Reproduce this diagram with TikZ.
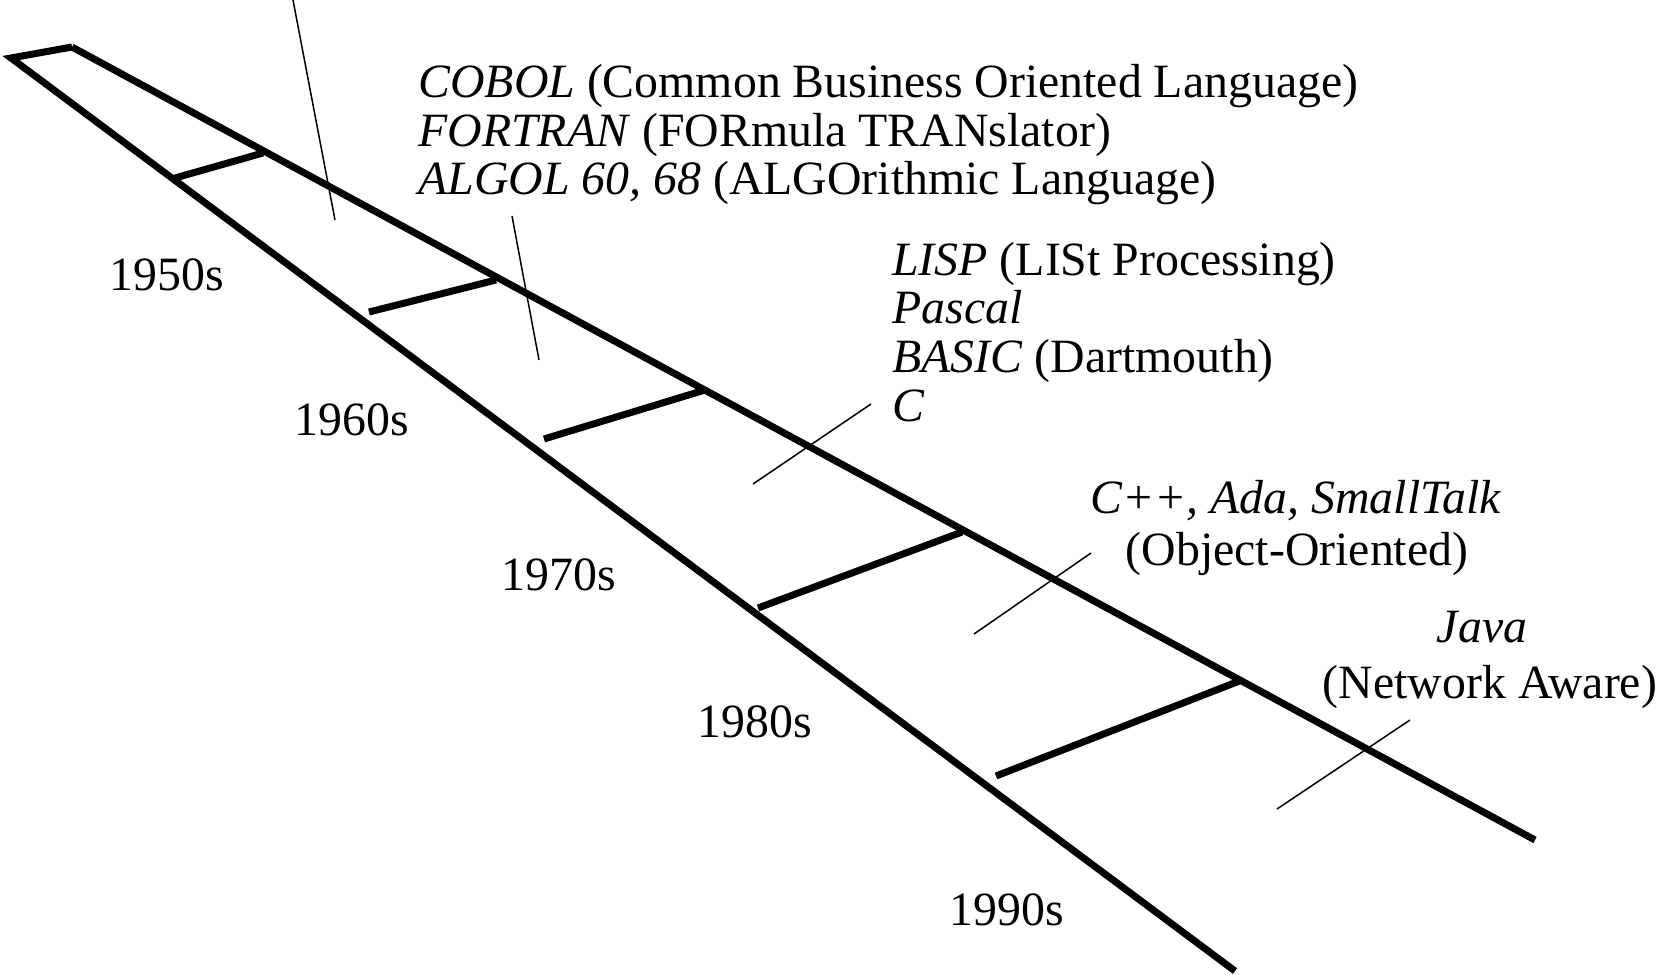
\documentclass[tikz,border=0pt]{standalone}
\usepackage{fontspec}
\setmainfont{Liberation Serif}
\begin{document}
\begin{tikzpicture}[x=0.5pt,y=-0.5pt,
  rail/.style={line width=3.5pt},
  rung/.style={line width=3.5pt},
  pointer/.style={line width=0.75pt},
  lbl/.style={inner sep=0pt,font=\fontsize{23.9}{28}\selectfont},
]
\useasboundingbox (0,0) rectangle (1662,975);
% rails
\coordinate (A) at (11,58);
\coordinate (B) at (72,47);
\coordinate (U) at (1535,840);
\coordinate (L) at (1235,971);
\draw[rail] (B) -- (A) -- (L);
\draw[rail] (B) -- (U);
% rungs
\coordinate (r1a) at (175,178); \coordinate (r1b) at (263,153);
\coordinate (r2a) at (369,312); \coordinate (r2b) at (496,280);
\coordinate (r3a) at (544,439); \coordinate (r3b) at (705,390);
\coordinate (r4a) at (758,608); \coordinate (r4b) at (962,532);
\coordinate (r5a) at (996,776); \coordinate (r5b) at (1242,680);
\draw[rung] (r1a) -- (r1b);
\draw[rung] (r2a) -- (r2b);
\draw[rung] (r3a) -- (r3b);
\draw[rung] (r4a) -- (r4b);
\draw[rung] (r5a) -- (r5b);
% pointers
\coordinate (p1a) at (293,0);    \coordinate (p1b) at (335,220);
\coordinate (p2a) at (512,216);  \coordinate (p2b) at (539,360);
\coordinate (p3a) at (753,484);  \coordinate (p3b) at (871,404);
\coordinate (p4a) at (974,634);  \coordinate (p4b) at (1091,553);
\coordinate (p5a) at (1277,809); \coordinate (p5b) at (1410,720);
\draw[pointer] (p1a) -- (p1b);
\draw[pointer] (p2a) -- (p2b);
\draw[pointer] (p3a) -- (p3b);
\draw[pointer] (p4a) -- (p4b);
\draw[pointer] (p5a) -- (p5b);
% decades
\node[lbl,anchor=base] (d50) at (167,290) {1950s};
\node[lbl,anchor=base] (d60) at (352,435) {1960s};
\node[lbl,anchor=base] (d70) at (559,590) {1970s};
\node[lbl,anchor=base] (d80) at (755,737) {1980s};
\node[lbl,anchor=base] (d90) at (1007,925) {1990s};
% languages
\node[lbl,anchor=base west] (cobol) at (418,97) {\textit{COBOL} (Common Business Oriented Language)};
\node[lbl,anchor=base west] (fortran) at (418,146) {\textit{FORTRAN} (FORmula TRANslator)};
\node[lbl,anchor=base west] (algol) at (418,194) {\textit{ALGOL 60, 68} (ALGOrithmic Language)};
\node[lbl,anchor=base west] (lisp) at (892,275) {\textit{LISP} (LISt Processing)};
\node[lbl,anchor=base west] (pascal) at (892,323.5) {\textit{Pascal}};
\node[lbl,anchor=base west] (basic) at (892,372) {\textit{BASIC} (Dartmouth)};
\node[lbl,anchor=base west] (clang) at (892,421) {\textit{C}};
\node[lbl,anchor=base] (cpp) at (1296,513) {\textit{C++, Ada, SmallTalk}};
\node[lbl,anchor=base] (oo) at (1297,565) {(Object-Oriented)};
\node[lbl,anchor=base] (java) at (1482,642) {\textit{Java}};
\node[lbl,anchor=base] (net) at (1490,698) {(Network Aware)};
\end{tikzpicture}
\end{document}
